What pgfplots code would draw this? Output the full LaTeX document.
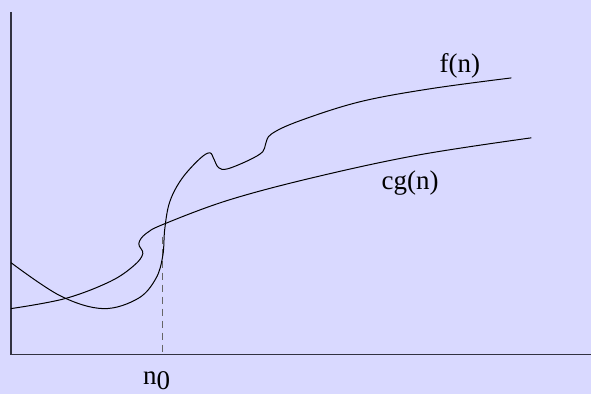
\documentclass[border=0pt]{standalone}
\usepackage{pgfplots}
\pgfplotsset{compat=1.18}
\usepackage{fontspec}
\setmainfont{Liberation Serif}
\definecolor{bg}{RGB}{217,217,255}
\definecolor{axc}{RGB}{50,50,65}
\begin{document}
\begin{tikzpicture}
\begin{axis}[
  scale only axis, width=592pt, height=394pt,
  xmin=0, xmax=592, ymin=0, ymax=394,
  hide axis, clip=false,
]
% background
\addplot[fill=bg, draw=none] coordinates {(0,0) (592,0) (592,394) (0,394)} -- cycle;
% axes
\addplot[axc, line width=1.5pt] coordinates {(11,382) (11,39) (592,39)};
% dashed n0 line
\addplot[black!60, line width=1.4pt, dash pattern=on 7pt off 5pt] coordinates {(162.7,157) (162.7,39)};
% f(n)
\addplot[black, line width=1pt, smooth, tension=0.6] coordinates {
(11,131) (60,98) (103,85) (138,95) (156,115) (163,138) (165,165)
(170,192) (182,215) (200,235) (210,241) (214,235) (219,226) (228,225)
(250,234) (263,242) (266,250) (272,260) (300,273) (360,292) (430,305) (512,316)};
% cg(n)
\addplot[black, line width=1pt, smooth, tension=0.6] coordinates {
(11,85) (65,95) (110,112) (134,128) (143,140) (139,150) (146,160)
(165,170) (230,194) (317,217) (420,239) (532,256)};
% labels
\node[anchor=base west, inner sep=0] at (axis cs:440,321) {\fontsize{27}{32}\selectfont f(n)};
\node[anchor=base west, inner sep=0] at (axis cs:382,204) {\fontsize{27}{32}\selectfont cg(n)};
\node[anchor=base west, inner sep=0] at (axis cs:143,9) {\fontsize{27}{32}\selectfont n\raisebox{-4.5pt}{0}};
\end{axis}
\end{tikzpicture}
\end{document}
